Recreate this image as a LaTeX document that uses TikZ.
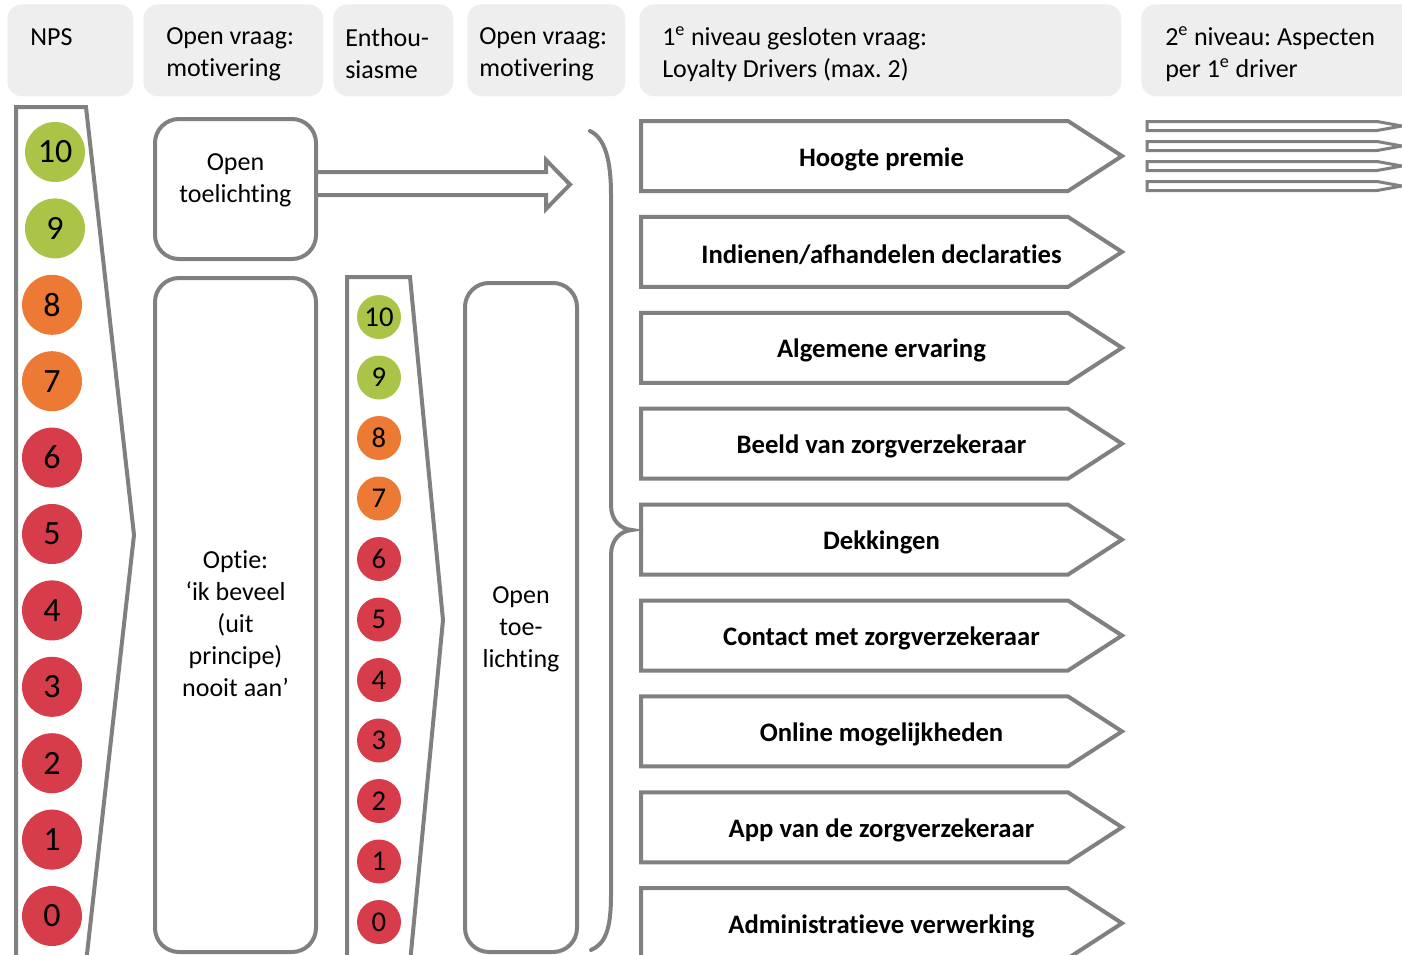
\documentclass[tikz,border=0pt]{standalone}
\usepackage{fontspec}
\setmainfont{Carlito}[Ligatures=NoCommon]
\usetikzlibrary{calc}

\definecolor{edge}{RGB}{128,128,128}
\definecolor{headfill}{RGB}{238,238,238}
\definecolor{scgreen}{RGB}{169,196,71}
\definecolor{scorange}{RGB}{237,122,52}
\definecolor{scred}{RGB}{215,60,74}

\begin{document}
\frenchspacing
\begin{tikzpicture}[x=0.75pt,y=-0.75pt,
  txt/.style={font=\fontsize{19.5}{24}\selectfont, inner sep=0pt, text=black},
  headbox/.style={fill=headfill, rounded corners=11pt, anchor=north west,
    minimum height=69pt, inner sep=0pt},
  headtxt/.style={txt, align=left, anchor=west},
  outline/.style={draw=edge, line width=3pt},
  roundbox/.style={outline, rounded corners=18pt, inner sep=0pt},
  bigdot/.style={circle, inner sep=0pt, minimum size=45pt,
    font=\fontsize{25.5}{30}\selectfont},
  smalldot/.style={circle, inner sep=0pt, minimum size=33pt,
    font=\fontsize{21.5}{24}\selectfont},
  drvtxt/.style={txt, font=\fontsize{20}{24}\selectfont\bfseries},
]
\useasboundingbox (0,0) rectangle (1402,954);
\clip (0,0) rectangle (1402,954);

% column headers
\node[headbox, minimum width=94.5pt]   (hnps)  at (7,4)    {};
\node[headbox, minimum width=135pt]    (hmot1) at (143,4)  {};
\node[headbox, minimum width=90pt]     (hent)  at (333,4)  {};
\node[headbox, minimum width=118.5pt]  (hmot2) at (467,4)  {};
\node[headbox, minimum width=361.5pt]  (hlev1) at (639,4)  {};
\node[headbox, minimum width=216.75pt] (hlev2) at (1141,4) {};
\node[headtxt] (tnps)  at (30,37)   {NPS};
\node[headtxt] (tmot1) at (166,54)  {Open vraag:\\motivering};
\node[headtxt] (tent)  at (345,54)  {Enthou-\\siasme};
\node[headtxt] (tmot2) at (479,54)  {Open vraag:\\motivering};
\node[headtxt] (tlev1) at (662,54)  {1\textsuperscript{e} niveau gesloten vraag:\\Loyalty Drivers (max. 2)};
\node[headtxt] (tlev2) at (1165,54) {2\textsuperscript{e} niveau: Aspecten\\per 1\textsuperscript{e} driver};

% NPS scale column
\draw[outline] (16,107) -- (86,107) -- (134,535) -- (86,963) -- (16,963) -- cycle;
\foreach \v/\c/\xx [count=\k from 0] in
  {10/scgreen/55, 9/scgreen/55, 8/scorange/52, 7/scorange/52, 6/scred/52, 5/scred/52,
   4/scred/52, 3/scred/52, 2/scred/52, 1/scred/52, 0/scred/52}
  \node[bigdot, fill=\c] (nps\v) at (\xx,{152+76.4*\k}) {\v};

% open explanation (promoters) with block arrow
\node[roundbox, minimum width=120.75pt, minimum height=105pt] (otop) at (235.5,189) {};
\node[txt, align=center] (otoptxt) at (235.5,180) {Open\\toelichting};
\coordinate (arrtip) at (570,184.5);
\draw[outline, line join=miter] ($(otop.east)+(0,-17)$) -- (546,172) -- (546,160) -- (arrtip)
  -- (546,209) -- (546,195) -- ($(otop.east)+(0,6)$);

% option box
\node[roundbox, minimum width=120.75pt, minimum height=505.5pt] (opt) at (235.5,615) {};
\node[txt, align=center] (opttxt) at (235.5,624)
  {Optie:\\`ik beveel\\(uit\\principe)\\nooit aan'};

% enthusiasm scale column
\draw[outline] (347,277) -- (410,277) -- (443,620) -- (410,963) -- (347,963) -- cycle;
\foreach \v/\c [count=\k from 0] in
  {10/scgreen, 9/scgreen, 8/scorange, 7/scorange, 6/scred, 5/scred,
   4/scred, 3/scred, 2/scred, 1/scred, 0/scred}
  \node[smalldot, fill=\c] (ent\v) at (379,{317+60.5*\k}) {\v};

% open explanation box
\node[roundbox, minimum width=84pt, minimum height=501.75pt] (obot) at (521,617.5) {};
\node[txt, align=center] (obottxt) at (521,629) {Open\\toe-\\lichting};

% brace
\draw[outline, line cap=round] (590,131) .. controls (605,138) and (611,160) .. (611,195)
  -- (611,505) .. controls (611,520) and (620,529) .. (632,530)
  .. controls (620,531) and (611,540) .. (611,555)
  -- (611,895) .. controls (611,930) and (605,944) .. (591,950);

% loyalty drivers
\foreach \t [count=\i from 0] in
  {Hoogte premie, Indienen/afhandelen declaraties, Algemene ervaring,
   Beeld van zorgverzekeraar, Dekkingen, Contact met zorgverzekeraar,
   Online mogelijkheden, App van de zorgverzekeraar, Administratieve verwerking}
{
  \pgfmathsetmacro\yy{156+95.9*\i}
  \draw[outline] (641,{\yy-35}) -- (1068,{\yy-35}) -- (1122,\yy)
    -- (1068,{\yy+35}) -- (641,{\yy+35}) -- cycle;
  \node[drvtxt] (drv\i) at (881.5,{\yy+3}) {\t};
}

% second level aspects
\foreach \yy in {126,146,166,186}
  \draw[outline, line width=2.25pt] (1147,{\yy-4.5}) -- (1377,{\yy-4.5}) -- (1402,\yy)
    -- (1377,{\yy+4.5}) -- (1147,{\yy+4.5}) -- cycle;
\end{tikzpicture}
\end{document}
